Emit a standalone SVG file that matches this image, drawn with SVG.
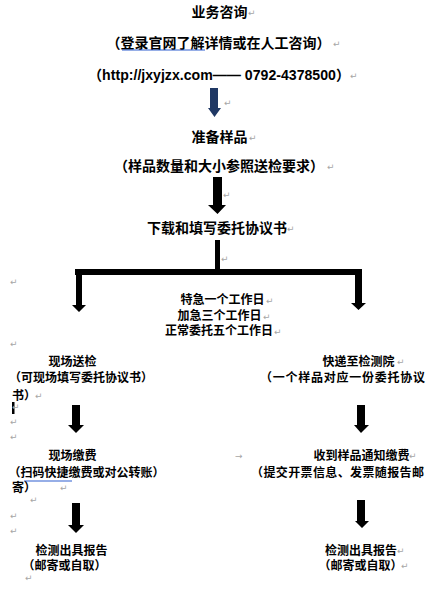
<svg xmlns="http://www.w3.org/2000/svg" width="444" height="600" viewBox="0 0 444 600">
<style>
text{font-family:"Noto Sans CJK SC","Liberation Sans",sans-serif;font-weight:bold;fill:#000}
.t14{font-size:14px}
.t12{font-size:12px}
.c{text-anchor:middle}
.pm{font-family:"DejaVu Sans",sans-serif;font-weight:normal;font-size:9px;fill:#a6a6a6}
.arr{fill:#000}
.navy{fill:#1f3864}
.ul{stroke:#2f5fd0;stroke-width:1.2;fill:none}
</style>
<rect width="444" height="600" fill="#fff"/>
<g id="connectors">
  <path class="navy" d="M210,88H218V108H221L214.5,117L208,108H210Z"/>
  <path class="arr" d="M213,177H222V205H226L217.5,214L208,205H213Z"/>
  <rect class="arr" x="215" y="240" width="5" height="30"/>
  <rect class="arr" x="75" y="269" width="287" height="6"/>
  <path class="arr" d="M76,269H82V305H86L79,312L72,305H76Z"/>
  <path class="arr" d="M355,269H362V303H366L358.5,310L351,303H355Z"/>
  <path class="arr" d="M72,405H80V425H84L76,433L68,425H72Z"/>
  <path class="arr" d="M357,405H365V425H369L361,433L354,425H357Z"/>
  <path class="arr" d="M72,503H80V525H84L76,533L68,525H72Z"/>
  <path class="arr" d="M357,500H365V521H369L362,528L355,521H357Z"/>
</g>
<g id="consult">
  <text class="t14 c" x="219.5" y="16.5">业务咨询</text>
  <text class="pm" x="248" y="16">↵</text>
  <text class="t14 c" x="218.5" y="47.5">（登录官网了解详情或在人工咨询）</text>
  <path class="ul" d="M122,50H205" stroke-width="1.4"/>
  <text class="pm" x="333" y="47">↵</text>
  <text x="88" y="80" font-size="14" textLength="262" lengthAdjust="spacingAndGlyphs" style="font-family:'Liberation Sans','Noto Sans CJK SC',sans-serif">（http://jxyjzx.com—— 0792-4378500）</text>
  <text class="pm" x="350" y="79">↵</text>
  <text class="pm" x="224" y="106">↵</text>
</g>
<g id="prepare">
  <text class="t14 c" x="219.5" y="142">准备样品</text>
  <text class="pm" x="249" y="141">↵</text>
  <text class="t14 c" x="219" y="171">（样品数量和大小参照送检要求）</text>
  <text class="pm" x="327" y="170">↵</text>
  <text class="pm" x="223" y="198">↵</text>
</g>
<g id="download">
  <text class="t14 c" x="217" y="232.5">下载和填写委托协议书</text>
  <text class="pm" x="287" y="232">↵</text>
  <text class="pm" x="221" y="262">↵</text>
</g>
<g id="timing">
  <text class="t12 c" x="222.5" y="304">特急一个工作日</text>
  <text class="pm" x="266" y="304">↵</text>
  <text class="t12 c" x="219.5" y="320">加急三个工作日</text>
  <text class="pm" x="263" y="320">↵</text>
  <text class="t12 c" x="219" y="335">正常委托五个工作日</text>
  <text class="pm" x="274" y="335">↵</text>
  <text class="pm" x="10" y="285">↵</text>
  <text class="pm" x="10" y="347">↵</text>
</g>
<g id="onsite">
  <text class="t12 c" x="72.5" y="365.5">现场送检</text>
  <text class="t12 c" x="81" y="382">（可现场填写委托协议书）</text>
  <text class="t12" x="12" y="399.5">书）</text>
  <text class="pm" x="35" y="399">↵</text>
  <rect x="12" y="402" width="2.5" height="12" fill="#000"/>
  <text class="pm" x="12" y="410">↵</text>
  <text class="pm" x="10" y="425">↵</text>
  <text class="pm" x="10" y="440">↵</text>
</g>
<g id="onsite-pay">
  <text class="t12 c" x="72.5" y="459.5">现场缴费</text>
  <text class="t12 c" x="86.5" y="476.5">（扫码快捷缴费或对公转账）</text>
  <path class="ul" d="M24,481H72"/>
  <text class="t12" x="12" y="491.5">寄）</text>
  <text class="pm" x="60" y="491">↵</text>
  <text class="pm" x="30" y="503">↵</text>
  <text class="pm" x="10" y="519">↵</text>
  <text class="pm" x="10" y="534">↵</text>
</g>
<g id="report-left">
  <text class="t12 c" x="71.5" y="554.5">检测出具报告</text>
  <text class="t12 c" x="64.5" y="569.5">（邮寄或自取）</text>
  <text class="pm" x="25" y="581">↵</text>
</g>
<g id="express">
  <text class="t12 c" x="358.5" y="365.5">快递至检测院</text>
  <text class="pm" x="397" y="365">↵</text>
  <text class="t12" x="260" y="382" textLength="165">（一个样品对应一份委托协议</text>
</g>
<g id="notify-pay">
  <text class="pm" x="235" y="459">→</text>
  <text class="t12 c" x="361.5" y="459.5">收到样品通知缴费</text>
  <text class="pm" x="409" y="459">↵</text>
  <text class="t12" x="251" y="476.5" textLength="173">（提交开票信息、发票随报告邮</text>
</g>
<g id="report-right">
  <text class="t12 c" x="361" y="554.5">检测出具报告</text>
  <text class="pm" x="397" y="554">↵</text>
  <text class="t12 c" x="360.5" y="569.5">（邮寄或自取）</text>
  <text class="pm" x="401" y="569">↵</text>
</g>
</svg>
